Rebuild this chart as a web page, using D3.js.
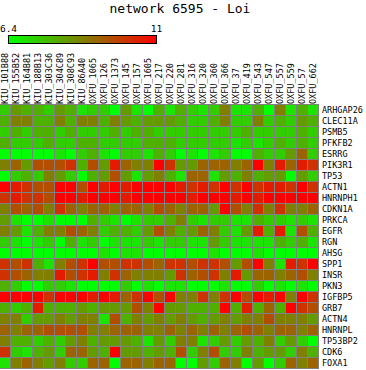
<!DOCTYPE html>
<html><head><meta charset="utf-8">
<script src="https://cdn.jsdelivr.net/npm/d3@7"></script>
<style>
html,body{margin:0;padding:0;background:#fff;}
svg{display:block;}
text{font-family:"DejaVu Sans Mono","Liberation Mono",monospace;fill:#000;}
</style></head>
<body>
<script>
const title = "network 6595 - Loi";
const colorDomain = [6.4, 11];
const legendLabels = ["6.4", "11"];
const columns = ["KIU_101B88","KIU_155B52","KIU_164B81","KIU_188B13","KIU_303C36","KIU_304C89","KIU_308C93","KIU_86A40","OXFU_1065","OXFU_126","OXFU_1373","OXFU_145","OXFU_157","OXFU_1605","OXFU_217","OXFU_220","OXFU_281","OXFU_316","OXFU_320","OXFU_360","OXFU_366","OXFU_37","OXFU_419","OXFU_543","OXFU_547","OXFU_557","OXFU_559","OXFU_57","OXFU_662"];
const genes = ["ARHGAP26","CLEC11A","PSMB5","PFKFB2","ESRRG","PIK3R1","TP53","ACTN1","HNRNPH1","CDKN1A","PRKCA","EGFR","RGN","AHSG","SPP1","INSR","PKN3","IGFBP5","GRB7","ACTN4","HNRNPL","TP53BP2","CDK6","FOXA1"];
const values = [
[7.3,8.2,7.8,7.8,7.3,8.2,7.8,6.9,7.3,7.3,6.4,8.2,6.9,6.4,7.8,6.9,7.8,7.3,6.9,7.3,8.7,6.9,6.9,7.8,6.4,8.7,6.9,7.8,6.9],
[7.8,8.7,8.7,7.8,7.8,8.7,7.8,8.7,8.7,7.8,8.7,8.2,7.8,8.2,8.2,8.2,7.8,7.3,7.3,7.8,8.7,7.3,7.3,8.7,7.3,7.8,7.3,8.2,7.8],
[7.3,7.8,7.3,7.8,7.8,7.3,7.8,7.3,7.3,7.3,7.8,7.3,7.8,7.8,7.3,7.3,7.3,7.3,7.3,7.3,7.3,7.3,7.8,7.3,7.3,7.3,7.3,7.8,7.3],
[7.8,7.3,7.3,7.3,7.8,7.3,7.3,7.8,7.8,7.3,7.3,7.3,7.3,7.8,7.8,7.8,7.3,7.3,7.3,7.3,7.3,6.9,7.3,6.9,7.3,7.8,7.3,7.8,7.3],
[6.4,6.4,6.4,6.4,6.4,6.9,6.4,7.3,7.8,6.9,6.4,7.3,7.3,6.9,7.8,7.3,6.4,6.9,6.4,6.9,7.3,6.4,6.4,7.8,7.3,7.3,8.2,9.2,7.3],
[8.7,9.2,8.2,9.6,9.6,9.6,10.1,7.8,9.6,8.2,10.5,9.2,8.7,8.7,11,10.1,8.2,8.2,9.2,9.2,9.2,8.7,9.2,11,8.7,10.5,9.2,10.5,10.1],
[6.4,7.3,7.8,7.3,8.7,8.2,7.3,6.4,7.8,8.2,9.6,8.2,6.9,8.2,8.7,7.8,6.9,9.2,9.2,6.9,8.2,7.8,8.7,7.8,8.2,8.2,6.4,8.2,7.3],
[11,10.5,10.1,9.6,9.6,11,11,9.6,11,10.5,11,10.5,11,11,11,11,10.5,10.1,10.5,10.1,11,10.1,11,10.1,10.5,10.5,10.1,11,10.1],
[10.1,10.5,10.1,10.1,9.6,11,11,10.5,11,11,11,10.5,11,11,11,11,11,10.5,11,11,11,10.5,11,10.5,11,11,11,11,11],
[8.7,9.6,9.2,9.6,8.7,10.1,9.2,8.7,9.2,9.2,8.7,9.2,9.2,8.7,9.6,9.2,8.7,9.2,9.2,8.2,11,9.6,8.7,10.1,8.7,10.1,8.7,8.7,9.2],
[8.2,6.9,6.4,6.4,6.9,6.4,6.4,6.4,7.8,7.3,6.9,6.4,6.9,7.3,7.3,7.8,8.7,7.3,6.9,7.3,7.3,6.9,6.9,7.8,7.3,7.3,6.9,7.3,6.9],
[8.7,8.2,6.9,7.8,8.7,8.7,9.6,9.2,8.7,7.3,7.8,7.8,7.3,8.2,9.6,8.7,7.8,8.2,9.2,8.7,7.3,6.9,8.2,10.5,7.8,10.5,6.9,9.6,7.8],
[7.3,6.9,6.4,6.9,7.3,6.4,7.8,6.9,7.3,6.4,6.9,6.9,6.9,7.3,6.9,7.3,7.3,6.9,6.9,8.2,7.3,6.9,6.9,6.9,6.9,7.8,7.3,7.8,6.9],
[6.4,6.4,6.4,6.4,6.4,6.4,6.4,6.4,6.4,6.9,6.4,6.9,6.9,6.4,6.4,6.4,6.4,6.4,6.4,6.9,6.4,6.4,6.4,6.9,6.4,6.4,6.4,6.4,6.4],
[10.1,9.6,10.1,7.8,6.9,8.7,9.6,10.1,11,9.6,9.6,10.1,10.1,9.6,9.2,10.1,10.1,9.6,10.1,10.1,9.6,8.2,9.6,11,8.7,6.9,10.5,10.1,11],
[10.1,9.6,9.2,8.7,8.7,10.5,9.6,10.1,10.5,8.7,10.1,9.2,8.7,8.7,8.7,8.2,10.1,9.2,9.6,10.1,8.7,10.5,8.2,9.2,9.2,8.7,9.2,9.6,8.7],
[7.8,7.3,6.4,6.4,7.3,7.3,6.9,6.4,6.4,6.4,6.4,7.3,6.4,6.9,6.4,6.9,6.9,6.4,6.4,6.4,6.9,6.4,6.4,7.3,6.4,6.9,6.4,6.9,6.4],
[11,11,11,11,10.1,11,11,11,10.5,11,10.5,9.2,10.1,11,9.6,11,8.7,8.7,10.1,8.7,10.1,11,9.6,11,10.5,11,8.7,11,10.1],
[7.8,7.3,7.8,10.5,7.8,7.8,7.8,8.2,7.8,8.2,8.2,8.2,9.6,8.7,11,8.2,8.2,7.8,7.8,7.8,11,7.8,10.5,7.8,9.2,7.8,11,10.1,9.6],
[8.7,8.7,7.3,8.2,8.2,8.7,8.2,8.7,8.7,6.9,9.6,7.8,8.7,8.2,8.7,8.2,8.7,8.2,7.8,8.2,8.7,8.2,8.7,8.7,9.6,8.7,8.7,8.7,8.2],
[9.2,8.7,9.2,9.2,9.6,9.6,9.6,9.6,8.7,8.7,9.2,9.2,9.2,8.7,8.7,9.2,8.7,9.2,8.7,9.2,8.7,9.2,9.6,9.2,8.7,9.2,9.2,8.7,9.2],
[8.7,7.8,7.8,7.3,7.8,7.3,8.2,8.7,7.8,8.2,8.2,8.2,7.8,6.9,8.2,7.3,8.7,8.7,6.9,7.3,8.2,7.3,8.2,7.8,8.7,7.3,8.2,7.3,6.4],
[10.1,7.3,6.9,7.8,8.2,7.3,9.2,9.2,8.2,7.8,11,8.2,8.2,7.8,8.2,7.8,9.6,7.3,8.7,9.6,7.3,7.3,8.7,7.8,8.2,8.2,7.3,8.7,7.8],
[6.9,8.7,9.2,8.7,8.2,8.7,7.3,7.3,9.2,9.2,6.4,9.2,9.2,8.7,9.2,9.2,6.4,6.4,8.2,7.3,9.2,8.7,6.4,8.2,6.4,7.3,9.2,8.7,9.2]
];

const W = 366, H = 370;
const gridLeft = 0, gridTop = 105, pitch = 11;
const svg = d3.select("body").append("svg").attr("width", W).attr("height", H);

const color = d3.scaleLinear().domain(colorDomain).range(["#00ff00", "#ff0000"]).interpolate(d3.interpolateRgb).clamp(true);

const x = d3.scaleBand().domain(columns).range([gridLeft, gridLeft + pitch * columns.length]);
const y = d3.scaleBand().domain(genes).range([gridTop, gridTop + pitch * genes.length]);

// title
svg.append("text").attr("x", 180).attr("y", 13).attr("text-anchor", "middle")
  .style("font-size", "13px").text(title);

// legend
const defs = svg.append("defs");
const grad = defs.append("linearGradient").attr("id", "lg").attr("x1", "0%").attr("x2", "100%");
d3.range(0, 1.0001, 0.1).forEach(t => {
  grad.append("stop").attr("offset", (t * 100) + "%")
    .attr("stop-color", color(colorDomain[0] + t * (colorDomain[1] - colorDomain[0])));
});
const legX = d3.scaleLinear().domain(colorDomain).range([8.5, 156.5]);
svg.append("rect").attr("x", legX(colorDomain[0])).attr("y", 35.5)
  .attr("width", legX(colorDomain[1]) - legX(colorDomain[0])).attr("height", 8)
  .attr("fill", "url(#lg)").attr("stroke", "#000").attr("stroke-width", 1);
svg.selectAll("text.leg").data(legendLabels).join("text").attr("class", "leg")
  .attr("x", d => legX(+d)).attr("y", 32).attr("text-anchor", "middle")
  .style("font-size", "9.5px").text(d => d);

// grid background
svg.append("rect").attr("x", gridLeft).attr("y", gridTop - 1)
  .attr("width", pitch * columns.length).attr("height", pitch * genes.length + 1)
  .attr("fill", "#808080");

const cells = [];
values.forEach((row, j) => row.forEach((v, i) => cells.push({ c: columns[i], g: genes[j], v })));
svg.selectAll("rect.cell").data(cells).join("rect").attr("class", "cell")
  .attr("x", d => x(d.c)).attr("y", d => y(d.g))
  .attr("width", pitch - 1).attr("height", pitch - 1)
  .attr("fill", d => color(d.v));

// column labels
svg.selectAll("text.col").data(columns).join("text").attr("class", "col")
  .attr("transform", d => `translate(${x(d) + 5 + 3},${gridTop - 1}) rotate(-90)`)
  .attr("text-anchor", "start")
  .style("font-size", "8.5px").text(d => d);

// row labels
svg.selectAll("text.row").data(genes).join("text").attr("class", "row")
  .attr("x", gridLeft + pitch * columns.length + 3)
  .attr("y", d => y(d) + 5).attr("dy", "0.35em")
  .style("font-size", "8.5px").text(d => d);
</script>
</body></html>
